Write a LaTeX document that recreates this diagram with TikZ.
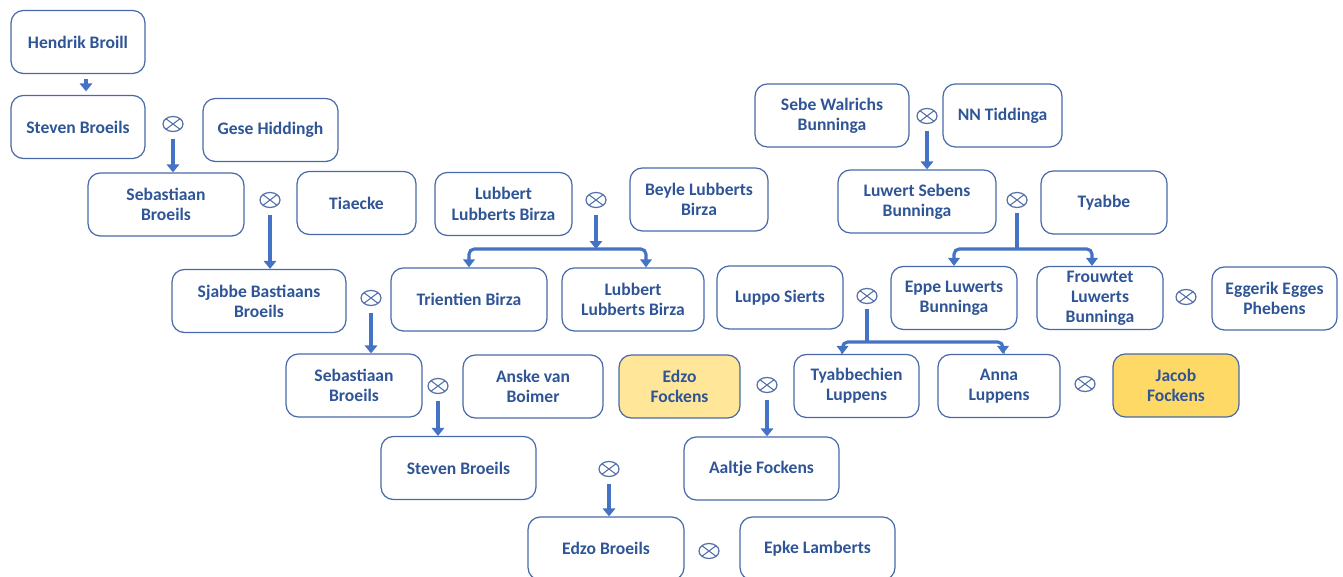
\documentclass[tikz,border=0pt]{standalone}
\usepackage{fontspec}
\setmainfont{Carlito}
\usepackage{tikz}
\usetikzlibrary{calc,arrows.meta,shapes.geometric}

\definecolor{boxline}{RGB}{72,106,168}
\definecolor{namecol}{RGB}{47,85,151}
\definecolor{linkcol}{RGB}{68,114,196}
\definecolor{ringcol}{RGB}{84,112,168}
\definecolor{ylight}{RGB}{255,230,153}
\definecolor{ydark}{RGB}{255,217,102}

\tikzset{
  person/.style={draw=boxline,line width=0.7pt,rounded corners=7pt,fill=white,
    minimum height=1.26cm,align=center,text=namecol,
    font=\fontsize{10}{11.5}\selectfont\bfseries,inner sep=2pt},
  marr/.style={ellipse,draw=ringcol,line width=0.7pt,minimum width=0.4cm,
    minimum height=0.3cm,inner sep=0pt,
    path picture={\draw[ringcol,line width=0.6pt]
      (path picture bounding box.north west) -- (path picture bounding box.south east)
      (path picture bounding box.south west) -- (path picture bounding box.north east);}},
  conn/.style={draw=linkcol,line width=2.2pt,-{Triangle[width=7pt,length=4.5pt]}},
  stem/.style={draw=linkcol,line width=2.2pt},
  branch/.style={draw=linkcol,line width=1.8pt,rounded corners=3pt,
    -{Triangle[width=6.5pt,length=4.5pt]}}
}

\begin{document}
\begin{tikzpicture}[x=0.02cm,y=-0.02cm]
\useasboundingbox (0,0) rectangle (1343,577);

% persons
\node[person,minimum width=2.68cm] (hendrik) at (78,42) {Hendrik Broill};
\node[person,minimum width=2.68cm] (steven1) at (78,127) {Steven Broeils};
\node[person,minimum width=2.70cm] (gese) at (270.5,130) {Gese Hiddingh};
\node[person,minimum width=3.12cm] (sebastiaan1) at (166,204.5) {Sebastiaan\\Broeils};
\node[person,minimum width=2.38cm] (tiaecke) at (356.5,203) {Tiaecke};
\node[person,minimum width=2.74cm] (lubbert1) at (503.5,204) {Lubbert\\Lubberts Birza};
\node[person,minimum width=2.76cm] (beyle) at (699,199.5) {Beyle Lubberts\\Birza};
\node[person,minimum width=3.08cm] (sebe) at (832,115.5) {Sebe Walrichs\\Bunninga};
\node[person,minimum width=2.38cm] (nn) at (1002.5,115.5) {NN Tiddinga};
\node[person,minimum width=3.16cm] (luwert) at (917,201.5) {Luwert Sebens\\Bunninga};
\node[person,minimum width=2.52cm] (tyabbe) at (1104,202.5) {Tyabbe};
\node[person,minimum width=3.48cm] (sjabbe) at (259,301) {Sjabbe Bastiaans\\Broeils};
\node[person,minimum width=3.12cm] (trientien) at (469,299.5) {Trientien Birza};
\node[person,minimum width=2.84cm] (lubbert2) at (633,299.5) {Lubbert\\Lubberts Birza};
\node[person,minimum width=2.52cm] (luppo) at (780,297.5) {Luppo Sierts};
\node[person,minimum width=2.52cm] (eppe) at (954,298) {Eppe Luwerts\\Bunninga};
\node[person,minimum width=2.52cm] (frouwtet) at (1100,298) {Frouwtet\\Luwerts\\Bunninga};
\node[person,minimum width=2.50cm] (eggerik) at (1274.5,298.5) {Eggerik Egges\\Phebens};
\node[person,minimum width=2.72cm] (sebastiaan2) at (354,385.5) {Sebastiaan\\Broeils};
\node[person,minimum width=2.80cm] (anske) at (533,386.5) {Anske van\\Boimer};
\node[person,minimum width=2.42cm,fill=ylight] (edzof) at (679.5,386.5) {Edzo\\Fockens};
\node[person,minimum width=2.50cm] (tyabbechien) at (856.5,386) {Tyabbechien\\Luppens};
\node[person,minimum width=2.44cm] (anna) at (999,386) {Anna\\Luppens};
\node[person,minimum width=2.52cm,fill=ydark] (jacob) at (1176,385.5) {Jacob\\Fockens};
\node[person,minimum width=3.10cm] (steven2) at (458.5,468) {Steven Broeils};
\node[person,minimum width=3.10cm] (aaltje) at (761.5,468.5) {Aaltje Fockens};
\node[person,minimum width=3.12cm] (edzob) at (606,548.5) {Edzo Broeils};
\node[person,minimum width=3.10cm] (epke) at (817.5,548.5) {Epke Lamberts};

% marriages
\node[marr] (m1) at (173,124) {};
\node[marr] (m2) at (270,200) {};
\node[marr] (m3) at (596,200) {};
\node[marr] (m4) at (927,116) {};
\node[marr] (m5) at (1017,200) {};
\node[marr] (m6) at (867,296) {};
\node[marr] (m7) at (1186,297) {};
\node[marr] (m8) at (371,298) {};
\node[marr] (m9) at (438,386) {};
\node[marr] (m10) at (767,385) {};
\node[marr] (m11) at (1085,384) {};
\node[marr] (m12) at (609,469) {};
\node[marr] (m13) at (709,551) {};

% junctions
\coordinate (j3) at (596,249);
\coordinate (j5) at (1017,249);
\coordinate (j6) at (867,342);

% descent
\draw[conn,shorten <=3pt,shorten >=2pt] ([xshift=0.16cm]hendrik.south) -- ([xshift=0.16cm]steven1.north);
\draw[conn,shorten <=4pt] (m1.south) -- (m1.south |- sebastiaan1.north);
\draw[conn,shorten <=4pt] (m2.south) -- (m2.south |- sjabbe.north);
\draw[conn,shorten <=4pt] (m3.south) -- (j3);
\draw[branch] (j3) -| (trientien.north);
\draw[branch] (j3) -| ([xshift=0.26cm]lubbert2.north);
\draw[conn,shorten <=4pt] (m4.south) -- (m4.south |- luwert.north);
\draw[stem,shorten <=3pt] (m5.south) -- (j5);
\draw[branch] (j5) -| (eppe.north);
\draw[branch] (j5) -| ([xshift=-0.16cm]frouwtet.north);
\draw[stem,shorten <=3pt] (m6.south) -- (j6);
\draw[branch] (j6) -| ([xshift=-0.28cm]tyabbechien.north);
\draw[branch] (j6) -| ([xshift=0.08cm]anna.north);
\draw[conn,shorten <=4pt] (m8.south) -- (m8.south |- sebastiaan2.north);
\draw[conn,shorten <=4pt] (m9.south) -- (m9.south |- steven2.north);
\draw[conn,shorten <=4pt] (m10.south) -- (m10.south |- aaltje.north);
\draw[conn,shorten <=4pt] (m12.south) -- (m12.south |- edzob.north);
\end{tikzpicture}
\end{document}
